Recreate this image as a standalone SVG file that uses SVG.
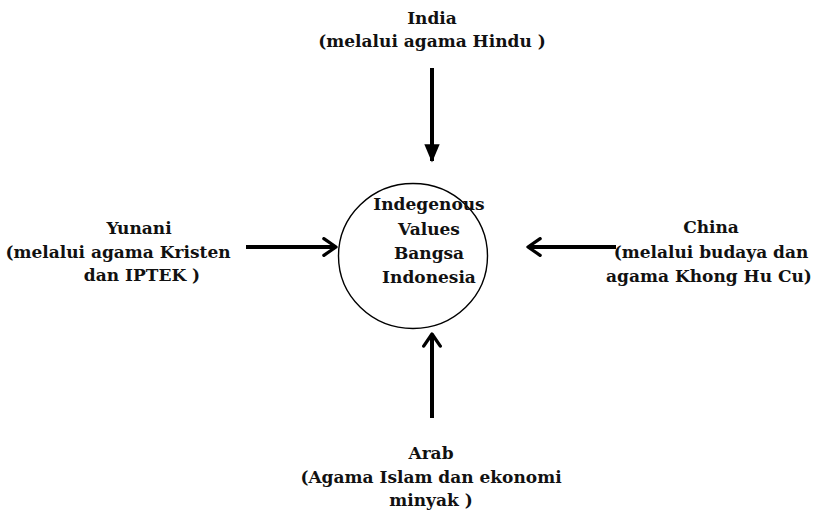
<svg xmlns="http://www.w3.org/2000/svg" width="821" height="514" viewBox="0 0 821 514">
  <style>
    .lbl { font-family: "DejaVu Serif", "Liberation Serif", serif; font-weight: bold; font-size: 17px; fill: #111; text-anchor: middle; }
    .arrow { stroke: #000; stroke-width: 4; fill: none; }
  </style>
  <defs>
    <marker id="chev" viewBox="0 0 12 12" refX="10" refY="6" markerWidth="5.2" markerHeight="5.2" orient="auto" markerUnits="strokeWidth">
      <path d="M3,1.2 L10,6 L3,10.8" fill="none" stroke="#000" stroke-width="1.9" stroke-linecap="round" stroke-linejoin="round"/>
    </marker>
    <marker id="tri" viewBox="0 0 12 12" refX="11" refY="6" markerWidth="4.6" markerHeight="4.6" orient="auto" markerUnits="strokeWidth">
      <path d="M0,1 L12,6 L0,11 Z" fill="#000"/>
    </marker>
  </defs>
  <rect width="821" height="514" fill="#fff"/>

  <g id="connectors">
    <line class="arrow" x1="432" y1="68" x2="432" y2="161" marker-end="url(#tri)"/>
    <line class="arrow" x1="246" y1="247" x2="336" y2="247" marker-end="url(#chev)"/>
    <line class="arrow" x1="616" y1="247" x2="528" y2="247" marker-end="url(#chev)"/>
    <line class="arrow" x1="432" y1="418" x2="432" y2="334" marker-end="url(#chev)"/>
  </g>

  <g id="center">
    <ellipse cx="413" cy="256" rx="74.5" ry="72.5" fill="#fff" stroke="#000" stroke-width="1.4"/>
    <text class="lbl" x="429" y="210">Indegenous</text>
    <text class="lbl" x="429" y="235">Values</text>
    <text class="lbl" x="429" y="259">Bangsa</text>
    <text class="lbl" x="429" y="283">Indonesia</text>
  </g>

  <g id="india">
    <text class="lbl" x="432" y="24">India</text>
    <text class="lbl" x="432" y="47">(melalui agama Hindu )</text>
  </g>

  <g id="yunani">
    <text class="lbl" x="139" y="234">Yunani</text>
    <text class="lbl" x="118" y="258">(melalui agama Kristen</text>
    <text class="lbl" x="142" y="281">dan IPTEK )</text>
  </g>

  <g id="china">
    <text class="lbl" x="711" y="233">China</text>
    <text class="lbl" x="711" y="258">(melalui budaya dan</text>
    <text class="lbl" x="709" y="282">agama Khong Hu Cu)</text>
  </g>

  <g id="arab">
    <text class="lbl" x="431" y="459">Arab</text>
    <text class="lbl" x="431" y="483">(Agama Islam dan ekonomi</text>
    <text class="lbl" x="431" y="506">minyak )</text>
  </g>
</svg>
